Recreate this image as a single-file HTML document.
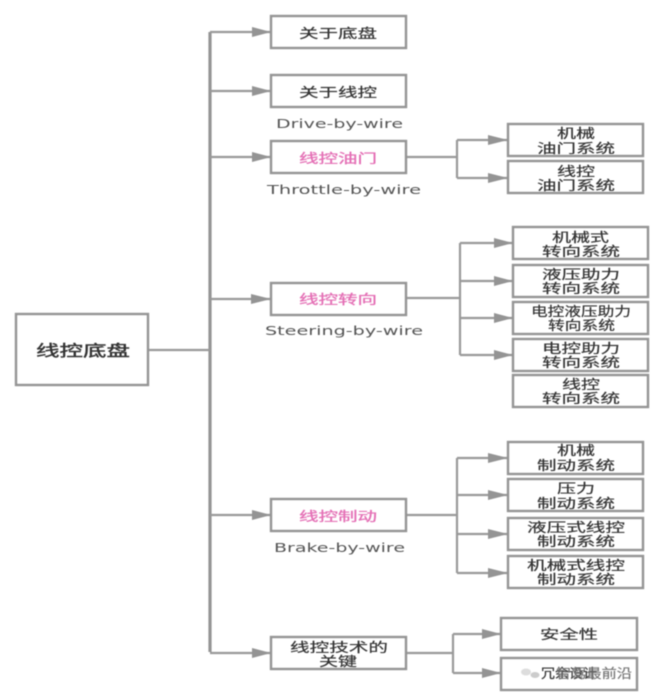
<!DOCTYPE html>
<html lang="zh"><head><meta charset="utf-8"><title>线控底盘</title>
<style>
html,body{margin:0;padding:0;background:#fff;width:657px;height:700px;overflow:hidden}
svg{display:block;filter:blur(.5px)}
text{font-family:"Liberation Sans","Noto Sans CJK SC",sans-serif;font-size:13px;fill:#333;stroke:#333;stroke-width:.2}
.l{font-family:"DejaVu Sans","Liberation Sans",sans-serif;font-size:12px;fill:#555;stroke:none}
.p{fill:#e46fb5;stroke:#e46fb5;stroke-width:.3}
.r{font-size:15.5px;fill:#333;stroke:#333;stroke-width:.4}
.b{fill:#fff;stroke:#949494;stroke-width:2.4}
.c{fill:none;stroke:#999;stroke-width:2.2}
.t{fill:none;stroke:#949494;stroke-width:3.2}
.a{fill:#949494}
</style></head><body>
<svg width="657" height="700" viewBox="0 0 657 700" xmlns="http://www.w3.org/2000/svg">
<path class="t" d="M210 32V652"/>
<path class="c" d="M148 350H210M210 32H271M210 91H271M210 157H271M210 299H271M210 515H271M210 653H271"/>
<path class="a" d="M252 27L271 32L252 37ZM252 86L271 91L252 96ZM252 152L271 157L252 162ZM251 294L271 299L251 304ZM252 510L271 515L252 520ZM252 648L271 653L252 658Z"/>

<path class="c" d="M406 157H457M457 140V178M457 140H508M457 178H508"/>
<path class="a" d="M488 135L508 140L488 145ZM488 173L508 178L488 183Z"/>
<path class="c" d="M406 298H460M460 243V355M460 243H513M460 281H513M460 318H513M460 355H513"/>
<path class="a" d="M494 238L513 243L494 248ZM494 276L513 281L494 286ZM494 313L513 318L494 323ZM494 350L513 355L494 360Z"/>
<path class="c" d="M406 515H457M457 458V573M457 458H508M457 495H508M457 534H508M457 573H508"/>
<path class="a" d="M488 453L508 458L488 463ZM488 490L508 495L488 500ZM488 529L508 534L488 539ZM488 568L508 573L488 578Z"/>
<path class="c" d="M406 653H453M453 634V673M453 634H501M453 673H501"/>
<path class="a" d="M482 629L501 634L482 639ZM482 668L501 673L482 678Z"/>

<rect class="b" x="16" y="314" width="132" height="71"/>
<rect class="b" x="271" y="16" width="135" height="32"/>
<rect class="b" x="271" y="75" width="135" height="32"/>
<rect class="b" x="271" y="141" width="135" height="32"/>
<rect class="b" x="271" y="283" width="135" height="32"/>
<rect class="b" x="271" y="499" width="135" height="32"/>
<rect class="b" x="271" y="637" width="135" height="32"/>
<rect class="b" x="508" y="124" width="135" height="32"/>
<rect class="b" x="508" y="161" width="135" height="32"/>
<rect class="b" x="513" y="227" width="135" height="32"/>
<rect class="b" x="513" y="265" width="135" height="32"/>
<rect class="b" x="513" y="302" width="135" height="32"/>
<rect class="b" x="513" y="339" width="135" height="32"/>
<rect class="b" x="513" y="375" width="135" height="32"/>
<rect class="b" x="508" y="442" width="135" height="32"/>
<rect class="b" x="508" y="479" width="135" height="32"/>
<rect class="b" x="508" y="518" width="135" height="32"/>
<rect class="b" x="508" y="556" width="135" height="32"/>
<rect class="b" x="501" y="618" width="136" height="32"/>
<rect class="b" x="501" y="658" width="136" height="32"/>

<text class="r" x="36" y="356" textLength="94" lengthAdjust="spacingAndGlyphs">线控底盘</text>
<text x="299" y="38" textLength="78" lengthAdjust="spacingAndGlyphs">关于底盘</text>
<text x="299" y="97" textLength="78" lengthAdjust="spacingAndGlyphs">关于线控</text>
<text class="l" x="276" y="128" textLength="127" lengthAdjust="spacingAndGlyphs">Drive-by-wire</text>
<text class="p" x="299" y="163" textLength="78" lengthAdjust="spacingAndGlyphs">线控油门</text>
<text class="l" x="267" y="194" textLength="154" lengthAdjust="spacingAndGlyphs">Throttle-by-wire</text>
<text class="p" x="299" y="304" textLength="78" lengthAdjust="spacingAndGlyphs">线控转向</text>
<text class="l" x="265" y="335" textLength="158" lengthAdjust="spacingAndGlyphs">Steering-by-wire</text>
<text class="p" x="299" y="521" textLength="78" lengthAdjust="spacingAndGlyphs">线控制动</text>
<text class="l" x="274" y="552" textLength="131" lengthAdjust="spacingAndGlyphs">Brake-by-wire</text>
<text x="290" y="652" textLength="98" lengthAdjust="spacingAndGlyphs">线控技术的</text>
<text x="319" y="666" textLength="38" lengthAdjust="spacingAndGlyphs">关键</text>

<text x="557" y="138" textLength="38" lengthAdjust="spacingAndGlyphs">机械</text>
<text x="537" y="153" textLength="78" lengthAdjust="spacingAndGlyphs">油门系统</text>
<text x="557" y="176" textLength="38" lengthAdjust="spacingAndGlyphs">线控</text>
<text x="537" y="190" textLength="78" lengthAdjust="spacingAndGlyphs">油门系统</text>

<text x="552" y="242" textLength="57" lengthAdjust="spacingAndGlyphs">机械式</text>
<text x="542" y="256" textLength="78" lengthAdjust="spacingAndGlyphs">转向系统</text>
<text x="542" y="279" textLength="78" lengthAdjust="spacingAndGlyphs">液压助力</text>
<text x="542" y="293" textLength="78" lengthAdjust="spacingAndGlyphs">转向系统</text>
<text x="531" y="316" textLength="100" lengthAdjust="spacingAndGlyphs">电控液压助力</text>
<text x="548" y="330" textLength="67" lengthAdjust="spacingAndGlyphs">转向系统</text>
<text x="542" y="353" textLength="78" lengthAdjust="spacingAndGlyphs">电控助力</text>
<text x="542" y="367" textLength="78" lengthAdjust="spacingAndGlyphs">转向系统</text>
<text x="562" y="389" textLength="38" lengthAdjust="spacingAndGlyphs">线控</text>
<text x="542" y="403" textLength="78" lengthAdjust="spacingAndGlyphs">转向系统</text>

<text x="557" y="455" textLength="38" lengthAdjust="spacingAndGlyphs">机械</text>
<text x="537" y="470" textLength="78" lengthAdjust="spacingAndGlyphs">制动系统</text>
<text x="557" y="493" textLength="38" lengthAdjust="spacingAndGlyphs">压力</text>
<text x="537" y="508" textLength="78" lengthAdjust="spacingAndGlyphs">制动系统</text>
<text x="527" y="532" textLength="98" lengthAdjust="spacingAndGlyphs">液压式线控</text>
<text x="537" y="546" textLength="78" lengthAdjust="spacingAndGlyphs">制动系统</text>
<text x="527" y="570" textLength="98" lengthAdjust="spacingAndGlyphs">机械式线控</text>
<text x="537" y="584" textLength="78" lengthAdjust="spacingAndGlyphs">制动系统</text>

<text x="540" y="639" textLength="58" lengthAdjust="spacingAndGlyphs">安全性</text>

<ellipse cx="526" cy="672" rx="5" ry="3.5" fill="#ddd"/>
<ellipse cx="535" cy="675" rx="4.5" ry="3" fill="#ccc"/>
<text x="541" y="678" textLength="56" lengthAdjust="spacingAndGlyphs">冗余设计</text>
<text x="556" y="678" textLength="76" lengthAdjust="spacingAndGlyphs" style="fill:#777;stroke:#777">智驾最前沿</text>
</svg>
</body></html>
